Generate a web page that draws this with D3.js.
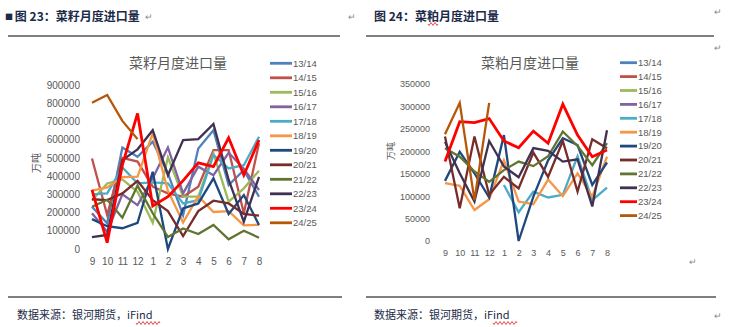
<!DOCTYPE html>
<html>
<head>
<meta charset="utf-8">
<script src="https://cdn.jsdelivr.net/npm/d3@7"></script>
<style>
  html, body { margin: 0; padding: 0; background: #fff; }
  svg { display: block; }
</style>
</head>
<body>
<svg id="page" width="732" height="327"></svg>
<script>
// Crop-year months, September through August
const months = ["9", "10", "11", "12", "1", "2", "3", "4", "5", "6", "7", "8"];
const seasons = ["13/14", "14/15", "15/16", "16/17", "17/18", "18/19",
                 "19/20", "20/21", "21/22", "22/23", "23/24", "24/25"];
const seasonColors = ["#4f81bd", "#c0504d", "#9bbb59", "#8064a2", "#4bacc6", "#f79646",
                      "#1f497d", "#772c2a", "#5f7530", "#403152", "#ff0000", "#b65708"];

const seedTicks = [0, 100000, 200000, 300000, 400000, 500000, 600000, 700000, 800000, 900000];
const mealTicks = [0, 50000, 100000, 150000, 200000, 250000, 300000, 350000];

// Rapeseed monthly imports, one row per season (Sep..Aug)
const seed1314 = [232000, 141000, 557000, 506000, 589000, 415000, 186000, 552000, 652000, 351000, 433000, 287000];
const seed1415 = [497000, 186000, 500000, 480000, 342000, 305000, 287000, 342000, 543000, 543000, 196000, 580000];
const seed1516 = [268000, 360000, 382000, 314000, 144000, 503000, 287000, 287000, 525000, 260000, 333000, 430000];
const seed1617 = [196000, 95000, 300000, 241000, 388000, 557000, 305000, 452000, 405000, 528000, 440000, 324000];
const seed1718 = [300000, 305000, 448000, 360000, 366000, 360000, 250000, 268000, 516000, 442000, 460000, 616000];
const seed1819 = [320000, 338000, 395000, 397000, 634000, 320000, 145000, 290000, 203000, 208000, 130000, 133000];
const seed1920 = [164000, 125000, 114000, 144000, 424000, 0, 223000, 250000, 388000, 192000, 296000, 132000];
const seed2021 = [273000, 268000, 305000, 374000, 268000, 208000, 71000, 208000, 265000, 250000, 192000, 183000];
const seed2122 = [232000, 270000, 172000, 348000, 196000, 66000, 113000, 82000, 132000, 53000, 100000, 62000];
const seed2223 = [65000, 77000, 488000, 547000, 652000, 405000, 598000, 603000, 686000, 380000, 150000, 396000];
const seed2324 = [324000, 35000, 460000, 744000, 236000, 287000, 375000, 473000, 452000, 610000, 405000, 598000];
const seed2425 = [803000, 845000, 703000, 603000, null, null, null, null, null, null, null, null];
const seedSeries = [seed1314, seed1415, seed1516, seed1617, seed1718, seed1819,
                    seed1920, seed2021, seed2122, seed2223, seed2324, seed2425];

// Rapeseed meal monthly imports, one row per season (Sep..Aug)
const none = [null, null, null, null, null, null, null, null, null, null, null, null];
const meal1314 = none, meal1415 = none, meal1516 = none, meal1617 = none;
const meal1718 = [null, null, null, null, 125000, 64000, 110000, 97000, 103000, 189000, 91000, 119000];
const meal1819 = [129000, 123000, 69000, 93000, 180000, 88000, 82000, 137000, 100000, 151000, 99000, 188000];
const meal1920 = [134000, 199000, 151000, 97000, 236000, 0, 99000, 180000, 229000, 214000, 125000, 175000];
const meal2021 = [233000, 73000, 233000, 103000, 143000, 117000, 197000, 143000, 223000, 110000, 227000, 207000];
const meal2122 = [207000, 188000, 155000, 132000, 158000, 177000, 167000, 189000, 244000, 212000, 169000, 218000];
const meal2223 = [221000, 151000, 88000, 223000, 166000, 142000, 207000, 201000, 177000, 182000, 77000, 247000];
const meal2324 = [177000, 266000, 264000, 273000, 223000, 208000, 245000, 218000, 305000, 236000, 188000, 203000];
const meal2425 = [238000, 308000, 91000, 308000, null, null, null, null, null, null, null, null];
const mealSeries = [meal1314, meal1415, meal1516, meal1617, meal1718, meal1819,
                    meal1920, meal2021, meal2122, meal2223, meal2324, meal2425];

const svg = d3.select("#page");
const cjk = "'Noto Sans CJK SC', 'Noto Sans', sans-serif";
const latin = "'Liberation Sans', Arial, sans-serif";

// Document-style figure captions, rules and source notes
function caption(x, label, bullet) {
  const t = svg.append("text").attr("x", x).attr("y", 21)
    .attr("font-family", cjk).attr("font-size", 12).attr("font-weight", "bold")
    .attr("fill", "#1b2a48");
  if (bullet) t.append("tspan").attr("font-size", 8).attr("dy", -1).text("■ ");
  t.append("tspan").attr("dy", bullet ? 1 : 0).text(label);
  return t;
}
caption(5, "图 23：菜籽月度进口量", true);
caption(374, "图 24：菜粕月度进口量", false);

[[8, 340], [366, 714]].forEach(([x1, x2]) => {
  svg.append("line").attr("x1", x1).attr("x2", x2).attr("y1", 36).attr("y2", 36)
    .attr("stroke", "#000").attr("stroke-width", 1.2);
  svg.append("line").attr("x1", x1).attr("x2", x2 + 2).attr("y1", 297).attr("y2", 297)
    .attr("stroke", "#000").attr("stroke-width", 1.2);
});

[[17, "数据来源：银河期货，iFind"], [374, "数据来源：银河期货，iFind"]].forEach(([x, s]) => {
  svg.append("text").attr("x", x).attr("y", 319)
    .attr("font-family", cjk).attr("font-size", 11).attr("fill", "#1b2a48").text(s);
});
// spell-check squiggles under "iFind" and "粕"
function squiggle(x, y, w) {
  let d = `M${x},${y}`;
  for (let i = 0; i < w; i += 2) d += ` l1,${i % 4 === 0 ? 1.5 : -1.5} l1,${i % 4 === 0 ? -1.5 : 1.5}`;
  svg.append("path").attr("d", d).attr("fill", "none").attr("stroke", "#e02020").attr("stroke-width", 0.8);
}
squiggle(136, 323, 24);
squiggle(493, 323, 24);
squiggle(428, 24, 10);

// paragraph marks
[[145, 20], [348, 20], [714, 15], [714, 51], [689, 265], [714, 319]].forEach(([x, y]) => {
  svg.append("text").attr("x", x).attr("y", y).attr("font-family", latin)
    .attr("font-size", 9).attr("fill", "#888").text("↵");
});

// One Excel-style line chart panel
function panel(cfg) {
  const g = svg.append("g");
  const x = d3.scalePoint().domain(months).range([cfg.x0, cfg.x1]);
  const y = d3.scaleLinear().domain([0, cfg.ticks[cfg.ticks.length - 1]]).range([cfg.y0, cfg.y1]);

  g.append("text").attr("x", cfg.titleX).attr("y", 68).attr("text-anchor", "middle")
    .attr("font-family", cjk).attr("font-size", 14).attr("fill", "#595959").text(cfg.title);

  g.append("text")
    .attr("transform", `translate(${cfg.unitX},${cfg.unitY}) rotate(-90)`)
    .attr("text-anchor", "middle").attr("font-family", cjk)
    .attr("font-size", cfg.tickSize).attr("fill", "#595959").text("万吨");

  const yAxis = g.append("g").attr("transform", `translate(${cfg.x0 - cfg.yGap},0)`)
    .call(d3.axisLeft(y).tickValues(cfg.ticks).tickFormat(d3.format("d")).tickSize(0).tickPadding(0));
  const xAxis = g.append("g").attr("transform", `translate(0,${cfg.y0 + cfg.xGap})`)
    .call(d3.axisBottom(x).tickSize(0).tickPadding(0));
  [yAxis, xAxis].forEach(a => {
    a.select(".domain").remove();
    a.selectAll("text").attr("font-family", latin).attr("font-size", cfg.tickSize).attr("fill", "#595959");
  });

  const line = d3.line().defined(d => d != null)
    .x((d, i) => x(months[i])).y(d => y(d));
  cfg.series.forEach((vals, k) => {
    g.append("path").datum(vals).attr("d", line).attr("fill", "none")
      .attr("stroke", seasonColors[k]).attr("stroke-width", k === 10 ? 2.8 : 2.3)
      .attr("stroke-linejoin", "miter");
  });

  const lg = g.append("g");
  seasons.forEach((s, k) => {
    const yy = cfg.legY + k * cfg.legStep;
    lg.append("line").attr("x1", cfg.legX).attr("x2", cfg.legX + cfg.legLen)
      .attr("y1", yy).attr("y2", yy).attr("stroke", seasonColors[k]).attr("stroke-width", 2.8);
    lg.append("text").attr("x", cfg.legX + cfg.legLen + 1).attr("y", yy).attr("dy", "0.35em")
      .attr("font-family", latin).attr("font-size", 9.5).attr("fill", "#595959").text(s);
  });
}

panel({
  title: "菜籽月度进口量", titleX: 178, series: seedSeries, ticks: seedTicks,
  x0: 92, x1: 259, y0: 249, y1: 85, yGap: 12, xGap: 9, tickSize: 10,
  unitX: 40, unitY: 163, legX: 270, legLen: 22, legY: 63.3, legStep: 14.5
});
panel({
  title: "菜粕月度进口量", titleX: 530, series: mealSeries, ticks: mealTicks,
  x0: 445, x1: 607, y0: 241, y1: 84, yGap: 15, xGap: 9, tickSize: 9,
  unitX: 394, unitY: 151, legX: 620, legLen: 17, legY: 62.7, legStep: 13.9
});
</script>
</body>
</html>
